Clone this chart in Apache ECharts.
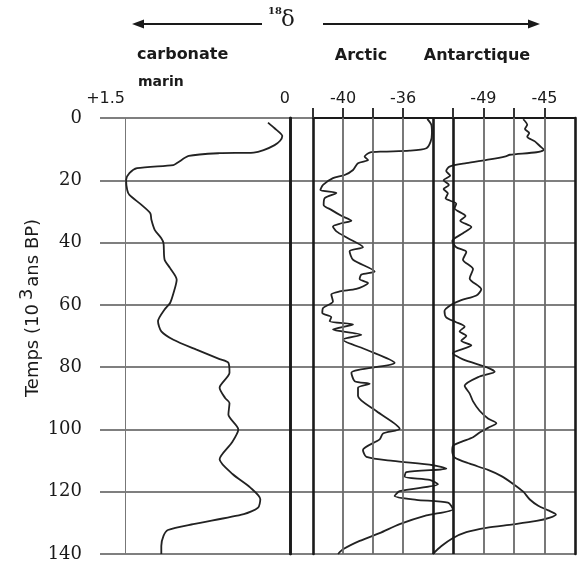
<!DOCTYPE html>
<html>
<head>
<meta charset="utf-8">
<script src="https://cdn.jsdelivr.net/npm/echarts@6/dist/echarts.min.js"></script>
<style>
  html, body { margin: 0; padding: 0; background: #fff; }
  #main { width: 580px; height: 563px; }
</style>
</head>
<body>
<div id="main"></div>
<script>
// temps en 10^3 ans BP (axe vertical commun)
const timeTicks = [0, 20, 40, 60, 80, 100, 120, 140]

// carbonate marin, d18O (+1.5 a gauche, 0 a droite)
const carbonateTicks = [0, 1.5]
const carbonateAge = [1.5, 3.3, 5.8, 7.3, 8.7, 10.3, 11.1, 11.3, 12.2, 14.3, 15.1, 16.1, 17.7, 19.9, 23.1, 24.7, 27.9, 30.6, 32.7, 35.9, 38.6, 40.2, 45.5, 48.2, 51.9, 55.1, 59.4, 61.5, 65.3, 68.5, 71.2, 74.4, 77.4, 78.6, 81.8, 86.6, 89.9, 91.5, 95.2, 100, 104.3, 109.6, 114.4, 118.7, 122.4, 125.1, 127.2, 130.4, 132.3, 134.2, 137.4, 140]
const carbonateD18O = [0.20, 0.14, 0.07, 0.09, 0.14, 0.24, 0.33, 0.64, 0.92, 1.02, 1.06, 1.39, 1.46, 1.49, 1.48, 1.46, 1.35, 1.27, 1.26, 1.23, 1.17, 1.15, 1.14, 1.09, 1.03, 1.05, 1.09, 1.14, 1.20, 1.17, 1.06, 0.85, 0.64, 0.56, 0.55, 0.64, 0.59, 0.55, 0.56, 0.47, 0.53, 0.64, 0.52, 0.36, 0.27, 0.29, 0.42, 0.88, 1.11, 1.15, 1.17, 1.17]

// Arctic (glace) : cadre -42 .. -34, la courbe deborde a droite
const arcticTicks = [-42, -40, -38, -36]
const arcticLabels = [-40, -36]
const arcticGrid = [-40, -38, -36]
const arcticFrame = [-34]
const arcticAge = [0.3, 2.2, 4.9, 7.6, 9.7, 10.5, 10.8, 11.1, 12.4, 13.5, 14.5, 16.7, 18.3, 19.3, 21.5, 23.1, 24.1, 25.7, 27.9, 29.5, 31.4, 33.0, 33.8, 34.8, 36.4, 38.6, 41.5, 42.8, 45.5, 49.3, 50.3, 51.7, 53.0, 54.9, 55.7, 56.7, 58.9, 61.0, 62.6, 63.9, 65.3, 66.3, 67.9, 69.6, 71.2, 74.4, 78.6, 81.8, 84.5, 85.3, 86.6, 89.3, 94.1, 99.8, 101.3, 103.2, 106.6, 108.8, 110.1, 111.5, 112.6, 113.7, 115.2, 116.2, 117.6, 119.8, 121.4, 122.6, 123.5, 125.6, 127.6, 130.4, 133.3, 135.8, 138.5, 140]
const arcticD18O = [-34.38, -34.11, -34.07, -34.16, -34.44, -35.56, -37.33, -38.22, -38.56, -38.33, -39.0, -39.33, -39.89, -40.67, -41.33, -41.51, -40.44, -41.22, -41.29, -40.78, -40.11, -39.44, -40.11, -40.67, -40.44, -39.67, -38.67, -39.56, -39.33, -37.89, -38.78, -38.89, -38.33, -39.11, -40.22, -40.78, -40.67, -41.33, -41.38, -40.78, -40.89, -39.33, -40.67, -38.78, -40.0, -38.44, -36.56, -39.44, -39.22, -38.22, -39.0, -39.0, -37.78, -36.22, -37.33, -37.56, -38.67, -38.44, -36.67, -34.0, -33.11, -35.78, -35.89, -34.22, -33.67, -36.22, -36.56, -35.11, -33.0, -32.67, -34.44, -36.22, -37.56, -38.89, -40.0, -40.33]

// Antarctique (glace) : cadre -51 .. -43, la courbe deborde a gauche
const antarcticTicks = [-51, -49, -47, -45]
const antarcticLabels = [-49, -45]
const antarcticGrid = [-49, -47, -45]
const antarcticFrame = [-51]
const antarcticAge = [0.4, 2.2, 3.5, 4.8, 6.0, 7.5, 9.0, 10.2, 11.0, 11.8, 12.3, 13.3, 14.5, 15.6, 17.0, 18.5, 20.0, 21.5, 22.8, 24.2, 25.8, 27.5, 29.0, 31.5, 33.0, 35.0, 37.0, 39.5, 41.5, 43.0, 45.5, 48.5, 51.5, 55.0, 57.0, 58.5, 60.0, 62.0, 64.0, 65.5, 67.0, 68.5, 70.0, 71.5, 73.0, 75.5, 77.5, 80.0, 81.5, 83.0, 86.0, 88.5, 91.0, 94.0, 96.5, 98.0, 99.5, 101.0, 102.5, 104.0, 105.3, 107.0, 109.0, 111.0, 113.0, 115.0, 117.5, 120.0, 122.5, 124.5, 126.0, 127.3, 128.3, 129.4, 130.5, 131.6, 133.0, 135.0, 137.5, 140.0]
const antarcticD18O = [-46.39, -46.13, -46.28, -46.0, -46.13, -45.63, -45.3, -45.04, -45.52, -47.27, -47.54, -48.59, -50.12, -51.22, -51.44, -51.18, -51.61, -51.26, -51.61, -51.33, -51.48, -50.78, -50.89, -50.17, -50.52, -49.79, -50.34, -51.04, -50.78, -50.12, -50.34, -49.68, -49.9, -49.14, -49.46, -50.45, -51.11, -51.55, -51.44, -50.82, -50.23, -50.56, -50.12, -50.45, -49.79, -51.0, -50.34, -48.8, -48.26, -49.25, -50.23, -49.9, -49.68, -49.25, -48.7, -48.15, -48.7, -49.25, -49.68, -50.45, -51.0, -51.04, -50.89, -49.9, -48.7, -47.82, -47.05, -46.39, -45.96, -45.41, -44.75, -44.25, -44.64, -45.52, -47.05, -48.81, -50.12, -51.04, -51.77, -52.32]

const SANS = 'DejaVu Sans'
const SERIF = 'DejaVu Serif'
const INK = '#1a1a1a'

const zip = (xs, ys) => xs.map((x, i) => [x, ys[i]])

// trait vertical epais (bord de panneau)
const edgeAxis = (gridIndex, position, offset) => ({
  type: 'value', gridIndex: gridIndex, position: position, offset: offset || 0,
  min: timeTicks[0], max: timeTicks[timeTicks.length - 1], inverse: true,
  axisLine: {show: true, lineStyle: {color: INK, width: 2.6}},
  axisTick: {show: false}, axisLabel: {show: false}, splitLine: {show: false}
})

const topAxis = (gridIndex, min, max, ticks, labels) => ({
  type: 'value', gridIndex: gridIndex, position: 'top', min: min, max: max,
  axisLine: {show: true, lineStyle: {color: INK, width: 2}},
  axisTick: {show: true, length: 10, customValues: ticks, lineStyle: {color: '#333', width: 2}},
  axisLabel: {
    customValues: labels, margin: 11, color: INK, fontFamily: SANS, fontSize: 16,
    formatter: v => labels.indexOf(v) >= 0 ? String(v) : ''
  },
  splitLine: {show: false}
})

// lignes verticales du panneau : grille grise + bord epais
const panelLines = (grid, frame) => ({
  silent: true, symbol: 'none', label: {show: false}, animation: false,
  data: grid.map(v => ({xAxis: v, lineStyle: {color: '#6a6a6a', width: 1.8, type: 'solid'}}))
    .concat(frame.map(v => ({xAxis: v, lineStyle: {color: INK, width: 2.6, type: 'solid'}})))
})

const curve = (axisIndex, yIndex, age, d18o, lines) => ({
  type: 'line', xAxisIndex: axisIndex, yAxisIndex: yIndex,
  data: zip(d18o, age), showSymbol: false, clip: false, smooth: 0.25,
  lineStyle: {color: '#222', width: 1.8},
  markLine: lines
})

const burnDown = echarts.init(document.getElementById('main'))
const option = {
  backgroundColor: '#fff',
  animation: false,
  grid: [
    {left: 100, right: 5, top: 118, bottom: 9},
    {left: 125, width: 165, top: 118, bottom: 9},
    {left: 313, width: 142.5, top: 118, bottom: 9},
    {left: 430, width: 145, top: 118, bottom: 9}
  ],
  xAxis: [
    {type: 'value', gridIndex: 0, show: false, min: 0, max: 1},
    {
      type: 'value', gridIndex: 1, position: 'top', inverse: true,
      min: carbonateTicks[0], max: carbonateTicks[1], interval: 1.5,
      axisLine: {show: false}, axisTick: {show: false},
      axisLabel: {
        margin: 11, align: 'right', color: INK, fontFamily: SANS, fontSize: 16,
        formatter: v => v > 0 ? '+' + v : String(v)
      },
      splitLine: {show: true, lineStyle: {color: '#777', width: 1}}
    },
    topAxis(2, -42, -32.5, arcticTicks, arcticLabels),
    topAxis(3, -52.5, -43, antarcticTicks, antarcticLabels)
  ],
  yAxis: [
    {
      type: 'value', gridIndex: 0, min: 0, max: 140, interval: 20, inverse: true,
      axisLine: {show: false}, axisTick: {show: false},
      axisLabel: {margin: 18, color: INK, fontFamily: SERIF, fontSize: 18},
      splitLine: {show: true, lineStyle: {color: '#555', width: 1.6}}
    },
    edgeAxis(1, 'left', 7),
    edgeAxis(1, 'right'),
    edgeAxis(2, 'left'),
    edgeAxis(3, 'right')
  ],
  series: [
    curve(1, 1, carbonateAge, carbonateD18O),
    curve(2, 3, arcticAge, arcticD18O, panelLines(arcticGrid, arcticFrame)),
    curve(3, 4, antarcticAge, antarcticD18O, panelLines(antarcticGrid, antarcticFrame))
  ],
  graphic: [
    // fleches et 18-delta
    {type: 'line', shape: {x1: 262, y1: 24, x2: 142, y2: 24}, style: {stroke: INK, lineWidth: 2}},
    {type: 'polygon', shape: {points: [[132, 24], [144, 19.5], [144, 28.5]]}, style: {fill: INK}},
    {type: 'line', shape: {x1: 323, y1: 24, x2: 530, y2: 24}, style: {stroke: INK, lineWidth: 2}},
    {type: 'polygon', shape: {points: [[540, 24], [528, 19.5], [528, 28.5]]}, style: {fill: INK}},
    {type: 'text', x: 268, y: 6, style: {text: '18', font: 'bold 10px ' + SERIF, fill: INK}},
    {type: 'text', x: 281, y: 9, style: {text: 'δ', font: '23px ' + SERIF, fill: INK}},
    // titres des panneaux
    {type: 'text', x: 137, y: 47, style: {text: 'carbonate', font: 'bold 16px ' + SANS, fill: INK}},
    {type: 'text', x: 138, y: 75, style: {text: 'marin', font: 'bold 14px ' + SANS, fill: INK}},
    {type: 'text', x: 361, y: 56, style: {text: 'Arctic', font: 'bold 16px ' + SANS, fill: INK, textAlign: 'center', textVerticalAlign: 'middle'}},
    {type: 'text', x: 477, y: 56, style: {text: 'Antarctique', font: 'bold 16px ' + SANS, fill: INK, textAlign: 'center', textVerticalAlign: 'middle'}},
    // titre de l'axe vertical
    {
      type: 'text', x: 33, y: 308, rotation: Math.PI / 2,
      style: {
        text: 'Temps (10{s|3}ans BP)', font: '18px ' + SANS, fill: INK,
        textAlign: 'center', textVerticalAlign: 'middle',
        rich: {s: {fontFamily: SANS, fontSize: 18, padding: [0, 2, 11, 4], fill: INK, color: INK}}
      }
    }
  ]
}
burnDown.setOption(option)
</script>
</body>
</html>
